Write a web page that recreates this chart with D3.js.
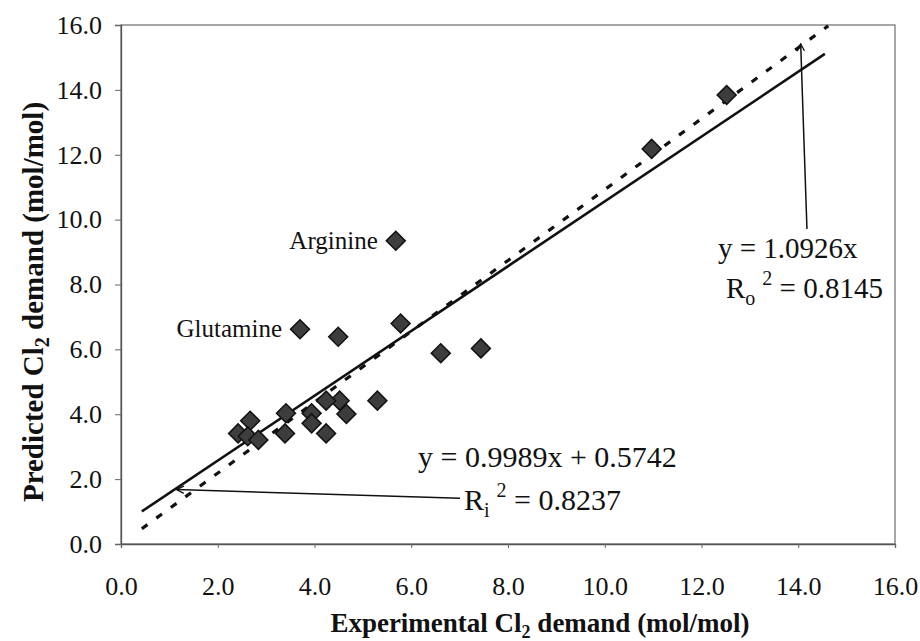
<!DOCTYPE html>
<html>
<head>
<meta charset="utf-8">
<script src="https://cdn.jsdelivr.net/npm/d3@7/dist/d3.min.js"></script>
<style>
  html, body { margin: 0; padding: 0; background: #fff; }
  svg { display: block; }
  text { font-family: "Liberation Serif", "Times New Roman", serif; fill: #111; }
</style>
</head>
<body>
<svg id="chart" width="920" height="641"></svg>
<script>
// ---- data ----
const experimental = [12.52, 10.97, 5.68, 3.70, 4.49, 5.78, 6.61, 7.44, 5.30, 4.66, 4.52, 4.24, 4.24, 3.94, 3.94, 3.41, 3.39, 2.67, 2.42, 2.62, 2.84];
const predicted    = [13.84, 12.18, 9.35, 6.62, 6.39, 6.80, 5.88, 6.03, 4.42, 4.01, 4.42, 4.42, 3.41, 4.03, 3.72, 4.03, 3.41, 3.80, 3.41, 3.32, 3.21];
const tickValues = [0, 2, 4, 6, 8, 10, 12, 14, 16];
const fitLinear = { slope: 0.9989, intercept: 0.5742, x0: 0.43, x1: 14.55 };
const fitOrigin = { slope: 1.0926, intercept: 0, x0: 0.43, x1: 14.62 };
const labels = [
  { name: "Arginine", x: 5.68, y: 9.35 },
  { name: "Glutamine", x: 3.70, y: 6.62 }
];

// ---- layout ----
const svg = d3.select("#chart");
const pLeft = 121, pRight = 895, pTop = 25, pBottom = 544;
const x = d3.scaleLinear().domain([0, 16]).range([pLeft, pRight]);
const y = d3.scaleLinear().domain([0, 16]).range([pBottom, pTop]);
const fmt = d3.format(".1f");

// arrow marker
const defs = svg.append("defs");
defs.append("marker")
  .attr("id", "arrow")
  .attr("viewBox", "0 0 10 10")
  .attr("refX", 9).attr("refY", 5)
  .attr("markerWidth", 9).attr("markerHeight", 9)
  .attr("markerUnits", "userSpaceOnUse")
  .attr("orient", "auto")
  .append("path")
  .attr("d", "M1,1 L9,5 L1,9")
  .attr("fill", "none").attr("stroke", "#111").attr("stroke-width", 1.4);

// plot border
svg.append("rect")
  .attr("x", pLeft).attr("y", pTop)
  .attr("width", pRight - pLeft).attr("height", pBottom - pTop)
  .attr("fill", "none").attr("stroke", "#777").attr("stroke-width", 1.3);

// axes
const yAxis = svg.append("g").attr("transform", `translate(${pLeft},0)`)
  .call(d3.axisLeft(y).tickValues(tickValues).tickFormat(fmt).tickSize(6).tickPadding(13));
const xAxis = svg.append("g").attr("transform", `translate(0,${pBottom})`)
  .call(d3.axisBottom(x).tickValues(tickValues).tickFormat(fmt).tickSize(4).tickPadding(29));
[yAxis, xAxis].forEach(g => {
  g.select(".domain").attr("stroke", "#555").attr("stroke-width", 1.3);
  g.selectAll(".tick line").attr("stroke", "#666").attr("stroke-width", 1);
  g.selectAll(".tick text").attr("font-size", 26).attr("font-family", "Liberation Serif").attr("fill", "#111");
});

// fitted lines
const lineGen = d3.line().x(d => x(d[0])).y(d => y(d[1]));
svg.append("path")
  .datum([[fitLinear.x0, fitLinear.slope * fitLinear.x0 + fitLinear.intercept], [fitLinear.x1, fitLinear.slope * fitLinear.x1 + fitLinear.intercept]])
  .attr("d", lineGen).attr("stroke", "#111").attr("stroke-width", 2.6).attr("fill", "none");
svg.append("path")
  .datum([[fitOrigin.x0, fitOrigin.slope * fitOrigin.x0], [fitOrigin.x1, fitOrigin.slope * fitOrigin.x1]])
  .attr("d", lineGen).attr("stroke", "#111").attr("stroke-width", 3.2)
  .attr("stroke-dasharray", "7,11").attr("fill", "none");

// points
const diamond = d3.symbol().type(d3.symbolSquare).size(180);
svg.append("g").selectAll("path")
  .data(experimental.map((v, i) => [v, predicted[i]]))
  .join("path")
  .attr("d", diamond)
  .attr("transform", d => `translate(${x(d[0])},${y(d[1])}) rotate(45)`)
  .attr("fill", "#3d3d3d").attr("stroke", "#111").attr("stroke-width", 1.5);

// point labels
labels.forEach(l => {
  svg.append("text")
    .attr("x", x(l.x) - 18).attr("y", y(l.y) + 8)
    .attr("text-anchor", "end").attr("font-size", 25)
    .text(l.name);
});

// annotation: origin fit
svg.append("line")
  .attr("x1", x(14.18)).attr("y1", y(9.71))
  .attr("x2", x(14.05)).attr("y2", y(15.42))
  .attr("stroke", "#111").attr("stroke-width", 1.5).attr("marker-end", "url(#arrow)");
svg.append("text").attr("x", 718).attr("y", 258).attr("font-size", 29).text("y = 1.0926x");
const t1 = svg.append("text").attr("x", 726).attr("y", 298).attr("font-size", 29);
t1.append("tspan").text("R");
t1.append("tspan").attr("dy", 7).attr("font-size", 20).text("o");
t1.append("tspan").attr("dy", -20).attr("dx", 7).attr("font-size", 20).text("2");
t1.append("tspan").attr("dy", 13).text(" = 0.8145");

// annotation: linear fit
svg.append("line")
  .attr("x1", 460).attr("y1", y(1.41))
  .attr("x2", x(1.15)).attr("y2", y(1.68))
  .attr("stroke", "#111").attr("stroke-width", 1.5).attr("marker-end", "url(#arrow)");
svg.append("text").attr("x", 418).attr("y", 467).attr("font-size", 30).text("y = 0.9989x + 0.5742");
const t2 = svg.append("text").attr("x", 464).attr("y", 510).attr("font-size", 30);
t2.append("tspan").text("R");
t2.append("tspan").attr("dy", 7).attr("font-size", 20).text("i");
t2.append("tspan").attr("dy", -20).attr("dx", 7).attr("font-size", 20).text("2");
t2.append("tspan").attr("dy", 13).text(" = 0.8237");

// axis titles
const xt = svg.append("text").attr("x", 540).attr("y", 632)
  .attr("text-anchor", "middle").attr("font-size", 27).attr("font-weight", "bold");
xt.append("tspan").text("Experimental Cl");
xt.append("tspan").attr("dy", 6).attr("font-size", 18).text("2");
xt.append("tspan").attr("dy", -6).text(" demand (mol/mol)");

const yt = svg.append("text")
  .attr("transform", `translate(43,302) rotate(-90)`)
  .attr("text-anchor", "middle").attr("font-size", 29).attr("font-weight", "bold");
yt.append("tspan").text("Predicted Cl");
yt.append("tspan").attr("dy", 6).attr("font-size", 20).text("2");
yt.append("tspan").attr("dy", -6).text(" demand (mol/mol)");
</script>
</body>
</html>
